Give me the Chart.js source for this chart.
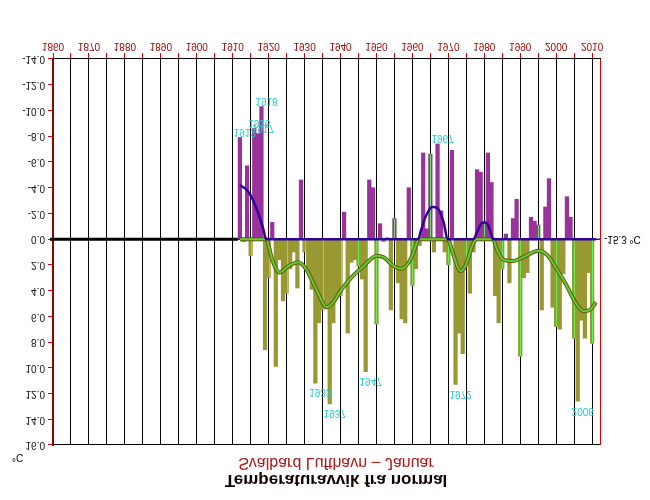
<!DOCTYPE html>
<html><head><meta charset="utf-8">
<script src="https://cdn.jsdelivr.net/npm/chart.js@4"></script>
<style>html,body{margin:0;padding:0;background:#fff;overflow:hidden}canvas{display:block;transform:scaleY(-1);}</style>
</head><body>
<canvas id="c" width="650" height="500"></canvas>
<script>
const titleText = 'Temperaturavvik fra normal';
const subtitleText = 'Svalbard Lufthavn \u2013 Januar';
const unitText = '\u00b0C';
const normalText = '-15.3 \u00b0C';

const years = [1912,1913,1914,1915,1916,1917,1918,1919,1920,1921,1922,1923,1924,1925,1926,1927,1928,1929,1930,1931,1932,1933,1934,1935,1936,1937,1938,1939,1940,1941,1942,1943,1944,1945,1946,1947,1948,1949,1950,1951,1952,1953,1954,1955,1956,1957,1958,1959,1960,1961,1962,1963,1964,1965,1966,1967,1968,1969,1970,1971,1972,1973,1974,1975,1976,1977,1978,1979,1980,1981,1982,1983,1984,1985,1986,1987,1988,1989,1990,1991,1992,1993,1994,1995,1996,1997,1998,1999,2000,2001,2002,2003,2004,2005,2006,2007,2008,2009,2010];
const anomalies = [-7.9,0.2,-5.7,1.3,-8.6,-8.2,-10.3,8.6,3.0,-1.3,9.9,1.6,4.8,4.2,2.3,1.0,3.8,-4.6,1.0,2.5,3.9,11.2,6.5,5.5,5.2,12.8,6.5,4.4,4.4,-2.1,7.3,1.8,1.6,2.1,3.1,10.3,-4.6,-4.0,6.6,-1.2,0.2,-0.1,5.5,-1.6,3.4,6.2,6.5,-4.0,3.6,2.3,0.5,-6.7,-0.8,-6.6,1.0,-7.4,-2.2,1.0,2.0,-6.9,11.3,7.3,8.9,2.0,4.2,1.0,-5.4,-5.2,-1.3,-6.7,-4.4,4.4,6.5,2.3,-0.4,3.4,-1.6,-3.1,9.1,3.0,2.6,-1.7,-1.4,-1.1,5.5,-2.5,-4.7,5.3,6.8,7.0,2.7,-3.3,-1.7,7.7,12.6,6.3,7.7,2.6,8.1];

const curveYears = [1912,1914,1915,1917,1918.5,1919.3,1921,1923,1925.5,1928.3,1930.6,1933.4,1936.2,1938,1940.3,1943,1946.4,1950,1952,1954.8,1957,1959.8,1961.2,1961.7,1962.2,1963.6,1965.5,1967,1968.7,1969.8,1971.5,1973.4,1974.7,1977,1977.9,1979.6,1980.7,1981.8,1982.4,1983.5,1985.3,1988.1,1990.9,1995.1,1997.4,2000.1,2002.9,2005.3,2007.6,2009.4,2011.1];
const coldCurve = [-4.2,-3.8,-3.4,-2.1,-0.8,0,0,0,0,0,0,0,0,0,0,0,0,0,0,0,0,0,0,0,-0.5,-1.7,-2.5,-2.4,-1.3,0,0,0,0,0,-0.5,-1.3,-1.25,-0.5,0,0,0,0,0,0,0,0,0,0,0,0,0];
const warmCurve = [0,0,0,0,0,0,1.6,2.6,2.1,1.8,2.4,4.0,5.3,4.9,3.9,3.0,2.1,1.3,1.4,2.1,2.3,1.4,0.3,0,0,0,0,0,0,0,1.3,2.5,2.1,0.3,0,0,0,0,0,0.8,1.6,1.7,1.4,0.9,1.2,2.3,3.6,4.9,5.6,5.5,4.9];

const labeledYears = [1912,1916,1917,1918,1933,1937,1947,1967,1972,2006];
const xTickYears = [1860,1865,1870,1875,1880,1885,1890,1895,1900,1905,1910,1915,1920,1925,1930,1935,1940,1945,1950,1955,1960,1965,1970,1975,1980,1985,1990,1995,2000,2005,2010];
const yTickValues = [-14,-12,-10,-8,-6,-4,-2,0,2,4,6,8,10,12,14,16];

const PURPLE = '#993399', OLIVE = '#999933';

const overlay = {
  id: 'overlay',
  beforeDatasetsDraw(chart) {
    const {ctx, chartArea: a, scales: {x, y}} = chart;
    const y0 = y.getPixelForValue(0);
    ctx.save();
    ctx.strokeStyle = '#000'; ctx.lineWidth = 3;
    ctx.beginPath(); ctx.moveTo(a.left - 3, y0); ctx.lineTo(x.getPixelForValue(years[0]) - 2, y0); ctx.stroke();
    ctx.restore();
  },
  afterDatasetDraw(chart, args) {
    if (args.index !== 0) return;
    const {ctx, chartArea: a, scales: {x, y}} = chart;
    const y0 = y.getPixelForValue(0);
    ctx.save();
    ctx.lineWidth = 1;
    xTickYears.forEach(t => {
      const i = years.indexOf(t);
      if (i < 0) return;
      const px = Math.round(x.getPixelForValue(t)) + 0.5;
      ctx.strokeStyle = '#66ee55';
      ctx.beginPath(); ctx.moveTo(px, y0); ctx.lineTo(px, y.getPixelForValue(anomalies[i])); ctx.stroke();
    });
    ctx.strokeStyle = '#2a1a99'; ctx.lineWidth = 1.5;
    ctx.beginPath(); ctx.moveTo(x.getPixelForValue(years[0]) - 2, y0); ctx.lineTo(a.right, y0); ctx.stroke();
    ctx.restore();
  },
  afterDraw(chart) {
    const {ctx, chartArea: a, scales: {x, y}} = chart;
    ctx.save();
    ctx.strokeStyle = '#000'; ctx.lineWidth = 1;
    ctx.beginPath(); ctx.moveTo(a.left, a.top + 0.5); ctx.lineTo(a.right, a.top + 0.5); ctx.stroke();
    ctx.strokeStyle = '#dd0000';
    ctx.beginPath(); ctx.moveTo(a.right + 0.5, a.top); ctx.lineTo(a.right + 0.5, a.bottom); ctx.stroke();
    const y0 = y.getPixelForValue(0);
    ctx.fillStyle = '#000'; ctx.font = '10px "Liberation Sans", Arial, sans-serif';
    ctx.textAlign = 'left'; ctx.textBaseline = 'middle';
    ctx.fillText(normalText, a.right + 4, y0);
    ctx.fillText(unitText, 12, 43);
    ctx.fillStyle = '#22cccc';
    labeledYears.forEach(yr => {
      const i = years.indexOf(yr);
      if (i < 0) return;
      const v = anomalies[i];
      const px = x.getPixelForValue(yr) + 5;
      const py = y.getPixelForValue(v);
      ctx.textAlign = 'center';
      if (v > 0) { ctx.textBaseline = 'bottom'; ctx.fillText(String(yr), px, py - 4); }
      else { ctx.textBaseline = 'top'; ctx.fillText(String(yr), px, py + 1); }
    });
    ctx.textAlign = 'center'; ctx.textBaseline = 'alphabetic';
    ctx.fillStyle = '#100000'; ctx.font = 'bold 17px "Liberation Sans", Arial, sans-serif';
    ctx.fillText(titleText, 336, 25);
    ctx.fillStyle = '#b01818'; ctx.font = '16px "Liberation Sans", Arial, sans-serif';
    ctx.fillText(subtitleText, 336, 42);
    ctx.restore();
  }
};

new Chart(document.getElementById('c'), {
  type: 'bar',
  data: {
    datasets: [
      {
        type: 'bar',
        data: years.map((yr, i) => ({x: yr, y: anomalies[i]})),
        backgroundColor: c => (c.raw && c.raw.y < 0) ? PURPLE : OLIVE,
        barPercentage: 1, categoryPercentage: 1, borderWidth: 0, order: 10
      },
      {
        type: 'line',
        data: curveYears.map((yr, i) => ({x: yr, y: warmCurve[i]})),
        borderColor: '#5a5a10', borderWidth: 4, pointRadius: 0, cubicInterpolationMode: 'monotone', order: 3
      },
      {
        type: 'line',
        data: curveYears.map((yr, i) => ({x: yr, y: warmCurve[i]})),
        borderColor: '#66cc33', borderWidth: 2, pointRadius: 0, cubicInterpolationMode: 'monotone', order: 2
      },
      {
        type: 'line',
        data: curveYears.map((yr, i) => ({x: yr, y: coldCurve[i]})),
        borderColor: '#330099', borderWidth: 2.5, pointRadius: 0, cubicInterpolationMode: 'monotone', order: 1
      }
    ]
  },
  options: {
    responsive: false,
    animation: false,
    events: [],
    layout: {padding: {left: 0, right: 50, top: 55, bottom: 0}},
    plugins: {legend: {display: false}, tooltip: {enabled: false}, title: {display: false}},
    scales: {
      x: {
        type: 'linear', min: 1860, max: 2012.2, offset: false,
        afterBuildTicks: s => { s.ticks = xTickYears.map(v => ({value: v})); },
        afterFit: s => { s.height = 59; },
        ticks: {
          autoSkip: false, maxRotation: 0, padding: 1, color: '#990000',
          font: {size: 10, family: '"Liberation Sans", Arial, sans-serif'},
          callback: v => (v % 10 === 0 ? String(v) : '')
        },
        grid: {color: '#000', lineWidth: 1, offset: false, tickColor: '#dd0000', tickLength: 6},
        border: {color: '#000', width: 1}
      },
      y: {
        type: 'linear', min: -14, max: 16,
        afterBuildTicks: s => { s.ticks = yTickValues.map(v => ({value: v})); },
        afterFit: s => { s.width = 53; },
        ticks: {
          padding: 3, color: '#111',
          font: {size: 10, family: '"Liberation Sans", Arial, sans-serif'},
          callback: v => Number(v).toFixed(1)
        },
        grid: {drawOnChartArea: false, tickColor: '#dd0000', tickLength: 5},
        border: {color: '#990000', width: 2}
      }
    }
  },
  plugins: [overlay]
});
</script>
</body></html>
